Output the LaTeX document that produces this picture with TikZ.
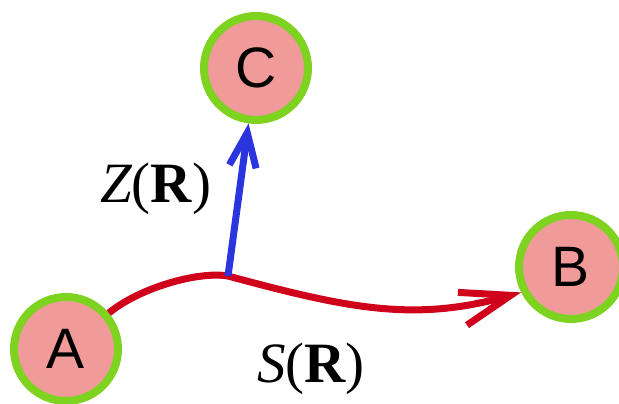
\documentclass[tikz,border=0pt]{standalone}
\usepackage{fontspec}
\usetikzlibrary{arrows.meta}
\newfontfamily\lsans{Liberation Sans}
\newfontfamily\lserif{Liberation Serif}
\definecolor{nodefill}{RGB}{240,154,154}
\definecolor{nodeline}{RGB}{126,211,33}
\definecolor{redline}{RGB}{208,2,27}
\definecolor{blueline}{RGB}{42,53,222}
\tikzset{
  state/.style={circle, draw=nodeline, fill=nodefill, line width=8pt,
    minimum size=104pt, inner sep=0pt, font=\lsans\fontsize{57}{60}\selectfont},
  lbl/.style={anchor=base west, inner sep=0pt, font=\lserif\fontsize{57}{60}\selectfont},
  redarrow/.style={draw=redline, line width=7pt,
    -{Straight Barb[length=50pt,width=34pt]}},
  bluearrow/.style={draw=blueline, line width=7pt,
    -{Straight Barb[length=34pt,width=27pt]}}
}
\begin{document}
\begin{tikzpicture}[x=1pt,y=1pt]
\useasboundingbox (0,0) rectangle (619,404);
\node[state] (A) at (66,55) {A};
\node[state] (C) at (256,336) {C};
\node[state] (B) at (571,137) {B};
\coordinate (M) at (228,128);
\draw[redline, line width=7pt] (A.40) .. controls (139,116) and (198,133) .. (M);
\draw[redarrow] (M) .. controls (350,95) and (415,82) .. (B.207);
\draw[bluearrow] (M) -- (C);
\node[lbl] (Z) at (100,201) {\itshape Z\upshape(\bfseries R\mdseries)};
\node[lbl] (S) at (257,21) {\itshape S\upshape(\bfseries R\mdseries)};
\end{tikzpicture}
\end{document}
